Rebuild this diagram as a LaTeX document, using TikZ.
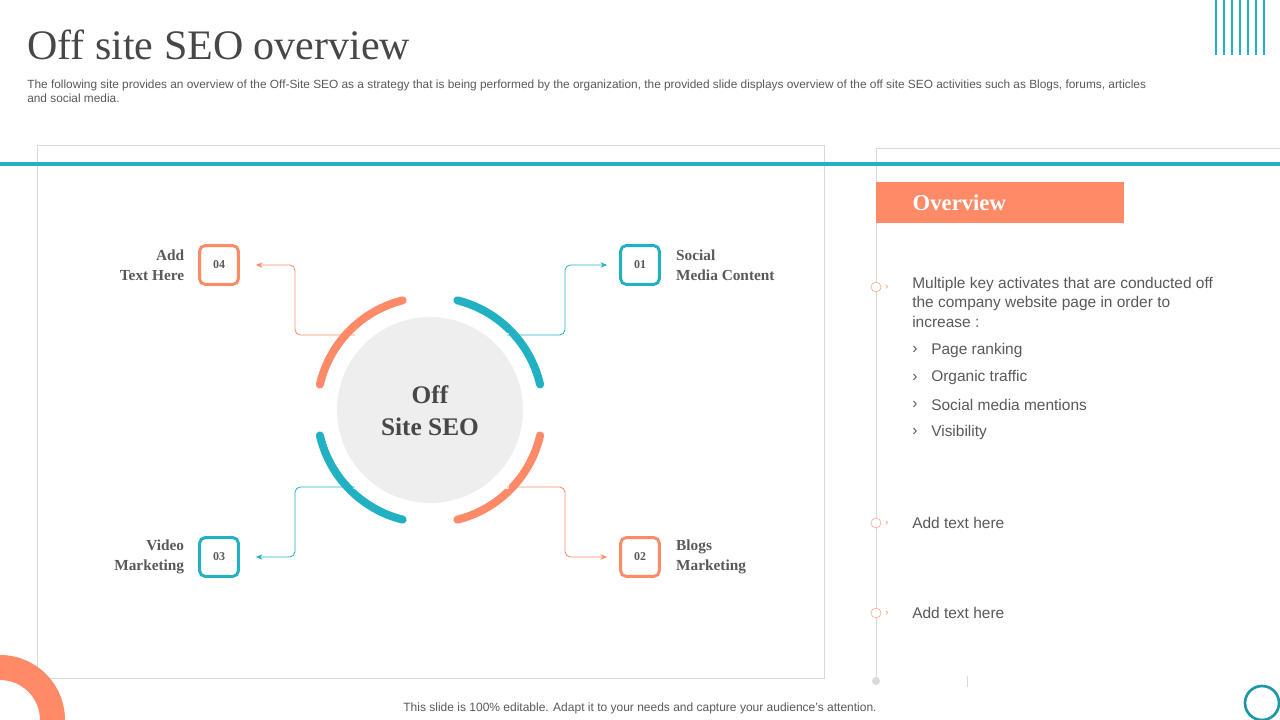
\documentclass[tikz,border=0pt]{standalone}
\usepackage{fontspec}
\setmainfont{Liberation Serif}
\setsansfont{Liberation Sans}
\usetikzlibrary{positioning,arrows.meta}
\definecolor{seoteal}{HTML}{22B0C3}
\definecolor{seoorange}{HTML}{FF8A68}
\definecolor{seogray}{HTML}{595959}
\definecolor{seolight}{HTML}{D9D9D9}
\tikzset{
  numbox/.style={draw=#1, line width=2.2pt, rounded corners=4pt, minimum size=29pt, font=\fontsize{9}{10}\selectfont\bfseries, text=seogray},
  arcline/.style={line width=6pt, line cap=round, #1},
  linkline/.style={#1, line width=0.6pt, rounded corners=4pt, -{Stealth[length=5pt,width=4pt]}},
  itemlabel/.style={font=\bfseries\fontsize{11.5}{15}\selectfont, text=seogray},
  sidetext/.style={font=\sffamily\fontsize{11.6}{14.5}\selectfont, text=seogray, anchor=west},
  tick/.style={draw=seoorange!70, line width=0.5pt, fill=white}
}
\begin{document}
\begin{tikzpicture}[x=0.75pt,y=-0.75pt]
  \useasboundingbox (0,0) rectangle (1280,720);
  % title and header
  \node[anchor=base west, inner sep=0, text=seogray!80!black, font=\fontsize{31.5}{34}\selectfont] (title) at (27,60) {Off site SEO overview};
  \node[anchor=north west, inner sep=0, text=seogray, font=\sffamily\fontsize{8.9}{10.5}\selectfont, align=left] (desc) at (27,80)
    {The following site provides an overview of the Off-Site SEO as a strategy that is being performed by the organization, the provided slide displays overview of the off site SEO activities such as Blogs, forums, articles\\and social media.};
  \foreach \i in {0,...,6}
    \draw[seoteal, line width=2.2pt] (1216+\i*8,0) -- (1216+\i*8,55);
  % panels
  \draw[seolight, line width=0.6pt] (37,145) rectangle (824,678);
  \draw[seolight, line width=0.6pt] (1280,148) -- (876,148) -- (876,680);
  \draw[seoteal, line width=3pt] (0,164) -- (1280,164);
  % centre
  \fill[seolight!45] (430,410) circle (93);
  \node[font=\bfseries\fontsize{19}{24}\selectfont, text=seogray!80!black, align=center] (hub) at (430,411) {Off\\Site SEO};
  \draw[arcline=seoorange] (430,410) ++(-104:113) arc (-104:-167:113);
  \draw[arcline=seoteal] (430,410) ++(-76:113) arc (-76:-13:113);
  \draw[arcline=seoteal] (430,410) ++(-193:113) arc (-193:-256:113);
  \draw[arcline=seoorange] (430,410) ++(-284:113) arc (-284:-347:113);
  \foreach \n/\x/\y in {p4/355/335, p1/507/335, p3/355/487, p2/507/487}
    \fill[white] (\x,\y) circle (2.2) coordinate (\n);
  % numbered boxes
  \node[numbox=seoorange] (b4) at (219,265) {04};
  \node[numbox=seoteal] (b1) at (640,265) {01};
  \node[numbox=seoteal] (b3) at (219,557) {03};
  \node[numbox=seoorange] (b2) at (640,557) {02};
  \node[itemlabel, align=right, left=7pt of b4] {Add\\Text Here};
  \node[itemlabel, align=left, right=8pt of b1] {Social\\Media Content};
  \node[itemlabel, align=right, left=7pt of b3] {Video\\Marketing};
  \node[itemlabel, align=left, right=8pt of b2] {Blogs\\Marketing};
  % connectors
  \draw[linkline=seoorange] (p4) -| (295,265) -- ([xshift=12pt]b4.east);
  \draw[linkline=seoteal] (p1) -| (565,265) -- ([xshift=-9pt]b1.west);
  \draw[linkline=seoteal] (p3) -| (295,557) -- ([xshift=12pt]b3.east);
  \draw[linkline=seoorange] (p2) -| (565,557) -- ([xshift=-9pt]b2.west);
  % overview panel
  \fill[seoorange] (876,182) rectangle (1124,223);
  \node[anchor=west, text=white, font=\bfseries\fontsize{17}{19}\selectfont] (ovr) at (908,203) {Overview};
  \foreach \n/\y in {t1/287, t2/523, t3/613} {
    \draw[tick] (876,\y) circle (5) coordinate (\n);
    \node[text=seoorange, font=\sffamily\scriptsize, inner sep=0] at (887,\y) {›};
  }
  \fill[seolight] (876,681) circle (4);
  \draw[seolight, line width=0.6pt] (967,676) -- (967,687);
  \node[sidetext, anchor=north west, align=left, inner sep=0] (para) at (912,277)
    {Multiple key activates that are conducted off\\the company website page in order to\\increase :};
  \foreach \t [count=\k] in {Page ranking, Organic traffic, Social media mentions, Visibility} {
    \node[sidetext, inner sep=0] at (912,323+\k*27.3) {›};
    \node[sidetext, inner sep=0] at (931,323+\k*27.3) {\t};
  }
  \node[sidetext, inner sep=0] (a1) at (912,523) {Add text here};
  \node[sidetext, inner sep=0] (a2) at (912,613) {Add text here};
  % decorations and footer
  \fill[seoorange] (0,655) arc (-90:0:65) -- (40,720) arc (0:-90:40) -- cycle;
  \draw[seoteal!85!black, line width=2pt] (1262,703) circle (17);
  \node[text=seogray, font=\sffamily\fontsize{9}{10}\selectfont] (foot) at (640,708) {This slide is 100\% editable. Adapt it to your needs and capture your audience's attention.};
\end{tikzpicture}
\end{document}
